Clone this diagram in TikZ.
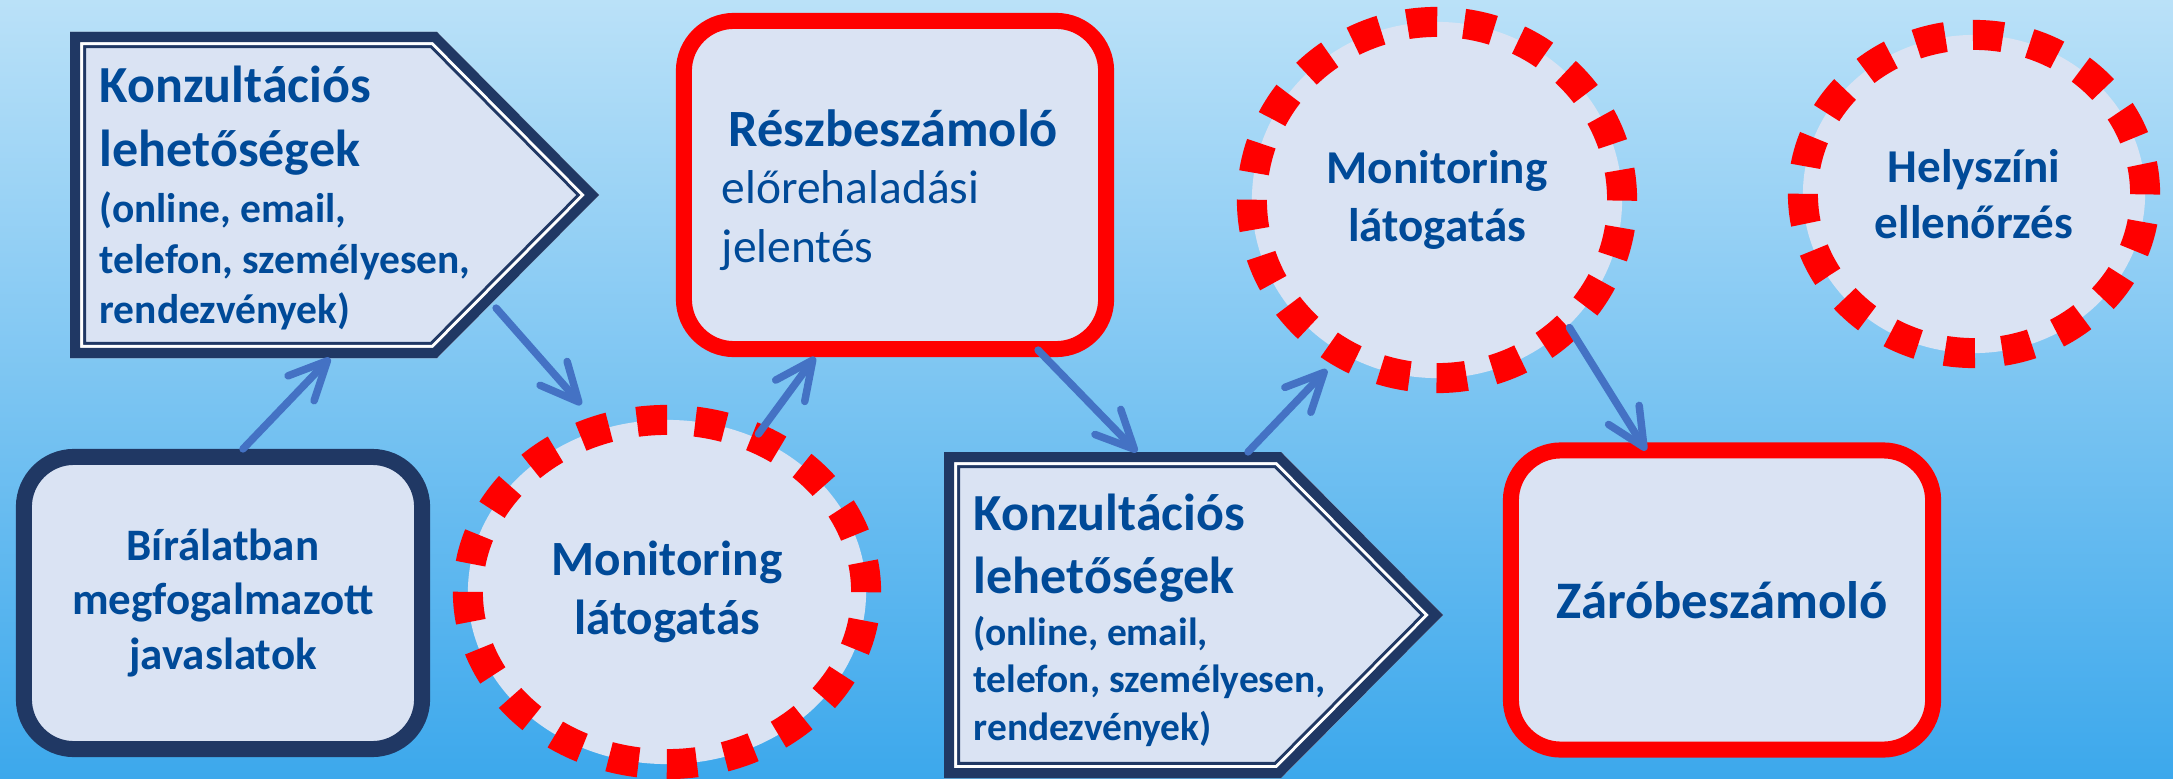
\documentclass[tikz,border=0pt]{standalone}
\usepackage{fontspec}
\setmainfont{Carlito}
\usetikzlibrary{shapes.geometric,arrows.meta}
\definecolor{bgtop}{RGB}{186,225,248}
\definecolor{bgmid}{RGB}{128,199,244}
\definecolor{bgbot}{RGB}{60,168,236}
\definecolor{navy}{RGB}{32,56,100}
\definecolor{boxfill}{RGB}{218,227,243}
\definecolor{txt}{RGB}{0,74,152}
\definecolor{arr}{RGB}{68,114,196}
\definecolor{redd}{RGB}{255,0,0}
\newcommand{\pentpath}[5]{(#1,#2) -- (#3,#2) -- (#4,{(#2+#5)/2}) -- (#3,#5) -- (#1,#5) -- cycle}
\newcommand{\drawpent}[5]{%
  \fill[boxfill] \pentpath{#1}{#2}{#3}{#4}{#5};
  \begin{scope}
    \clip \pentpath{#1}{#2}{#3}{#4}{#5};
    \draw[navy, line width=0.32cm, line join=miter] \pentpath{#1}{#2}{#3}{#4}{#5};
    \draw[white, line width=0.26cm, line join=miter] \pentpath{#1}{#2}{#3}{#4}{#5};
    \draw[navy, line width=0.20cm, line join=miter] \pentpath{#1}{#2}{#3}{#4}{#5};
  \end{scope}}
\tikzset{
  rbox/.style={draw, line width=0.16cm, rounded corners=0.5cm, fill=boxfill, inner sep=0,
    text=txt, align=center},
  navybox/.style={rbox, draw=navy},
  redbox/.style={rbox, draw=redd},
  dell/.style={ellipse, draw=redd, fill=boxfill, line width=0.30cm, inner sep=0,
    text=txt, align=center},
  ghost/.style={inner sep=0, outer sep=0},
  pbig/.style={anchor=base west, inner sep=0, text=txt, font=\fontsize{14.8}{17}\selectfont\bfseries},
  psmallA/.style={anchor=base west, inner sep=0, text=txt, font=\fontsize{11.8}{14}\selectfont\bfseries},
  psmallB/.style={anchor=base west, inner sep=0, text=txt, font=\fontsize{11.2}{14}\selectfont\bfseries},
  rtitle/.style={anchor=base west, inner sep=0, text=txt, font=\fontsize{14.9}{17}\selectfont\bfseries},
  rplain/.style={anchor=base west, inner sep=0, text=txt, font=\fontsize{13.5}{16}\selectfont},
  conn/.style={draw=arr, line width=0.075cm, line cap=round,
    -{Straight Barb[length=0.38cm, width=0.36cm, round]}}
}
\begin{document}
\begin{tikzpicture}[x=0.01cm, y=-0.01cm]
\useasboundingbox (0,0) rectangle (2173,779);
\shade[top color=bgtop, middle color=bgmid, bottom color=bgbot] (0,0) rectangle (2173,779);

% pentagon 1
\drawpent{70}{32}{437}{599}{358}
\node[ghost, minimum width=5.29cm, minimum height=3.26cm] (p1) at (334.5,195) {};
\node[pbig] (p1t1) at (99,103) {Konzultációs};
\node[pbig] (p1t2) at (99,167) {lehetőségek};
\node[psmallA] (p1t3) at (99,222) {(online, email,};
\node[psmallA] (p1t4) at (99,273) {telefon, személyesen,};
\node[psmallA] (p1t5) at (99,323) {rendezvények)};

% pentagon 2
\drawpent{944}{452}{1281}{1443}{778}
\node[ghost, minimum width=4.99cm, minimum height=3.26cm] (p2) at (1193.5,615) {};
\node[pbig] (p2t1) at (973,530) {Konzultációs};
\node[pbig] (p2t2) at (973,593) {lehetőségek};
\node[psmallB] (p2t3) at (973,645) {(online, email,};
\node[psmallB] (p2t4) at (973,692) {telefon, személyesen,};
\node[psmallB] (p2t5) at (973,740) {rendezvények)};

% rounded boxes
\node[navybox, minimum width=3.98cm, minimum height=2.92cm,
  font=\fontsize{12.8}{15.5}\selectfont\bfseries] (bir) at (223,603)
  {Bírálatban\\megfogalmazott\\javaslatok};
\node[redbox, minimum width=4.22cm, minimum height=3.28cm] (resz) at (895,185) {};
\node[rtitle] (rt1) at (728,147) {Részbeszámoló};
\node[rplain] (rt2) at (721,203) {előrehaladási};
\node[rplain] (rt3) at (721,262) {jelentés};
\node[redbox, minimum width=4.22cm, minimum height=2.99cm,
  font=\fontsize{15}{18}\selectfont\bfseries] (zaro) at (1722,600) {Záróbeszámoló};

% dashed ellipses
\node[dell, minimum width=3.98cm, minimum height=3.44cm,
  dash pattern=on 0.30cm off 0.2835cm,
  font=\fontsize{14}{17}\selectfont\bfseries] (mon1) at (667,592) {Monitoring\\látogatás};
\node[dell, minimum width=3.70cm, minimum height=3.56cm,
  dash pattern=on 0.30cm off 0.27cm,
  font=\fontsize{13.4}{16.5}\selectfont\bfseries] (mon2) at (1437,200) {Monitoring\\látogatás};
\node[dell, minimum width=3.42cm, minimum height=3.18cm,
  dash pattern=on 0.30cm off 0.276cm,
  font=\fontsize{13.4}{16}\selectfont\bfseries] (hely) at (1974,194) {Helyszíni\\ellenőrzés};

% connectors
\draw[conn] ([xshift=0.2cm]bir.north) -- ([xshift=-0.045cm]p1.south);
\draw[conn] ([xshift=-1.03cm, yshift=0.5cm]p1.south east) -- ([xshift=-0.05cm, yshift=0.14cm]mon1.115);
\draw[conn] ([xshift=-0.05cm, yshift=-0.09cm]mon1.60) -- ([xshift=-0.8cm]resz.south);
\draw[conn] ([xshift=1.43cm, yshift=0.07cm]resz.south) -- ([xshift=-0.565cm]p2.north);
\draw[conn] ([xshift=0.545cm]p2.north) -- ([xshift=-0.04cm, yshift=-0.06cm]mon2.237);
\draw[conn] ([xshift=-0.09cm, yshift=0.09cm]mon2.316) -- ([xshift=-0.76cm, yshift=-0.08cm]zaro.north);
\end{tikzpicture}
\end{document}
